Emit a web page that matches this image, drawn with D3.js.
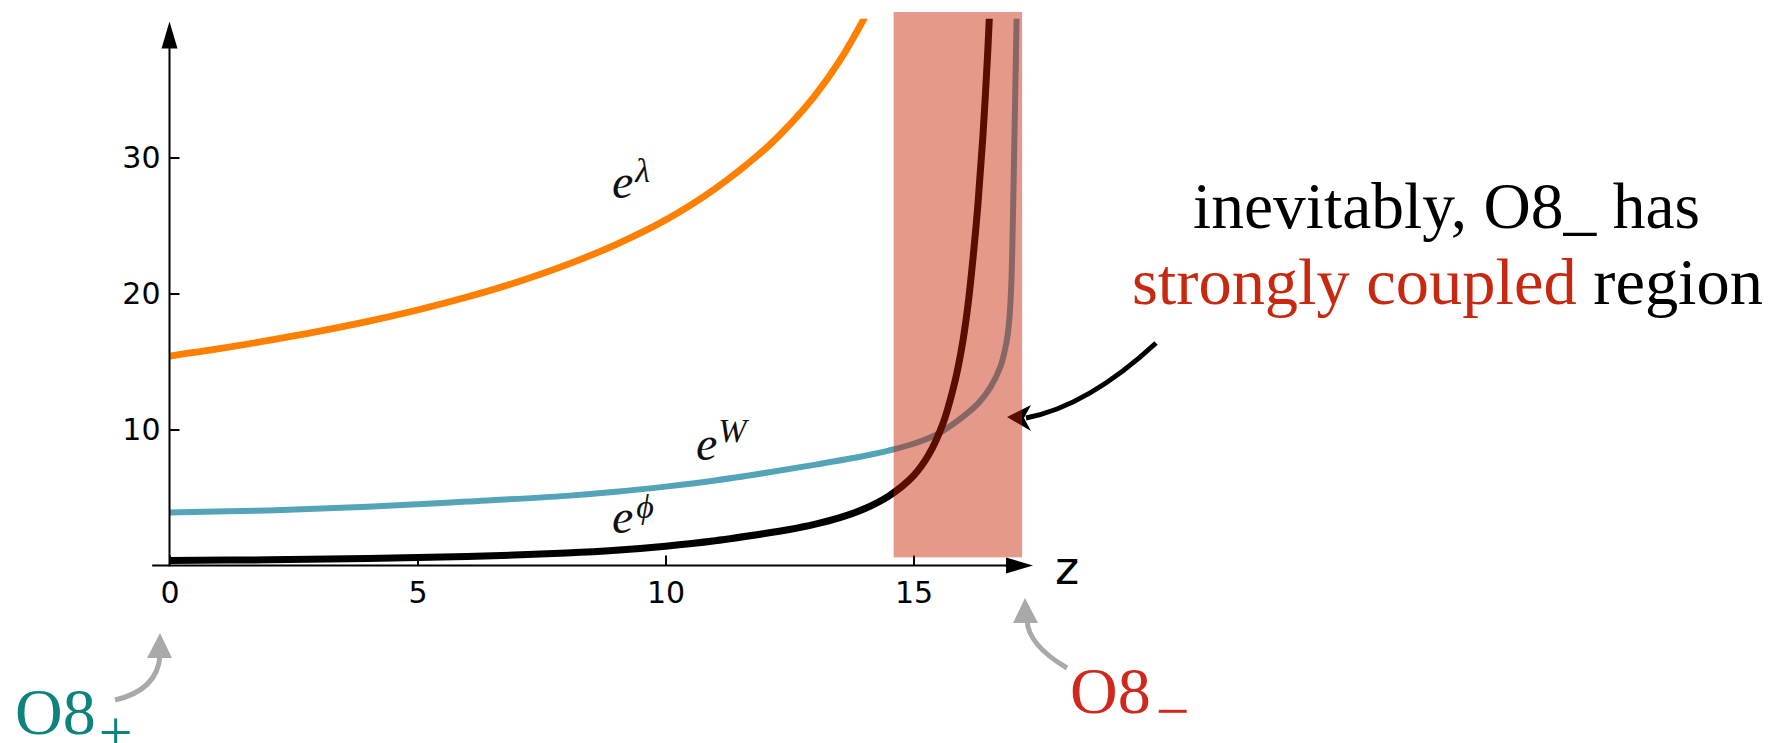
<!DOCTYPE html>
<html>
<head>
<meta charset="utf-8">
<script src="https://cdn.jsdelivr.net/npm/d3@7"></script>
<style>
  html, body { margin: 0; padding: 0; background: #fff; }
  svg { display: block; }
</style>
</head>
<body>
<svg id="chart" width="1780" height="743"></svg>
<script>
// e^lambda (orange)
const zLambda = [0, 1, 2, 3, 4, 5, 6, 7, 8, 9, 10, 11, 12, 12.5, 13, 13.5, 14, 14.3];
const eLambda = [15.4, 15.94, 16.55, 17.21, 17.95, 18.79, 19.74, 20.83, 22.1, 23.6, 25.4, 27.7, 30.6, 32.4, 34.5, 37.05, 40.2, 42.4];

// e^W (teal)
const zW = [0, 2, 4, 6, 8, 9, 10, 11, 12, 13, 14, 14.5, 15, 15.5, 16, 16.3, 16.55, 16.75, 16.84, 16.9, 16.94, 16.97, 16.99, 17.02, 17.05, 17.08, 17.1];
const eW = [3.9, 4.05, 4.32, 4.7, 5.12, 5.42, 5.8, 6.25, 6.8, 7.4, 8.05, 8.45, 8.95, 9.7, 10.95, 11.9, 13.1, 14.6, 15.8, 17.0, 18.5, 20.5, 23.0, 28.5, 34.5, 40.5, 44.5];

// e^phi (black)
const zPhi = [0, 2, 4, 6, 8, 9, 10, 11, 12, 12.5, 13, 13.5, 14, 14.5, 15, 15.3, 15.6, 15.8, 15.9, 16.0, 16.1, 16.2, 16.3, 16.4, 16.5, 16.55, 16.6];
const ePhi = [0.37, 0.42, 0.52, 0.66, 0.92, 1.12, 1.42, 1.82, 2.35, 2.65, 3.02, 3.5, 4.15, 5.1, 6.6, 8.1, 10.5, 13.0, 14.6, 16.6, 19.2, 22.6, 26.6, 31.6, 38.0, 42.0, 46.0];

// strongly coupled band near O8_
const regionZ = [14.6, 17.19];
const regionY = [0.6, 40.7];

// axis ticks
const zTicks = [0, 5, 10, 15];
const yTicks = [10, 20, 30];

const svg = d3.select("#chart");
svg.append("rect").attr("width", 1780).attr("height", 743).attr("fill", "#fff");

const x = d3.scaleLinear().domain([0, 17]).range([169.5, 169.5 + 17 * 49.6]);
const y = d3.scaleLinear().domain([0, 40]).range([565.5, 21.5]);

const yTop = 40.2;   // curves are cut off here
const zEnd = 17.41;  // tip of the z axis arrow
const zStart = -0.35;

svg.append("defs").append("clipPath").attr("id", "plotclip")
  .append("rect")
  .attr("x", 0).attr("y", y(yTop))
  .attr("width", 1780).attr("height", y(-1) - y(yTop));

const line = d3.line()
  .x(d => x(d[0]))
  .y(d => y(d[1]))
  .curve(d3.curveCatmullRom.alpha(0.5));

const curves = [
  { z: zLambda, v: eLambda, color: "#ff8000", width: 6.8 },
  { z: zW, v: eW, color: "#53a4b6", width: 6 },
  { z: zPhi, v: ePhi, color: "#000000", width: 7 }
];

const gCurves = svg.append("g").attr("clip-path", "url(#plotclip)");
curves.forEach(c => {
  gCurves.append("path")
    .datum(c.z.map((z, i) => [z, c.v[i]]))
    .attr("d", line)
    .attr("fill", "none")
    .attr("stroke", c.color)
    .attr("stroke-width", c.width)
    .attr("stroke-linejoin", "round");
});

// axes
const axisColor = "#000";
const yAxis = d3.axisLeft(y).tickValues(yTicks).tickSizeInner(-10).tickSizeOuter(0).tickPadding(9);
const gy = svg.append("g").attr("transform", `translate(${x(0)},0)`).call(yAxis);
gy.select(".domain").remove();
gy.selectAll(".tick line").attr("stroke", axisColor).attr("stroke-width", 2);
gy.selectAll(".tick text")
  .attr("font-family", "DejaVu Sans, sans-serif")
  .attr("font-size", 30)
  .attr("fill", "#000");

const xAxis = d3.axisBottom(x).tickValues(zTicks).tickSizeInner(-10).tickSizeOuter(0).tickPadding(16);
const gx = svg.append("g").attr("transform", `translate(0,${y(0)})`).call(xAxis);
gx.select(".domain").remove();
gx.selectAll(".tick line").attr("stroke", axisColor).attr("stroke-width", 2);
gx.selectAll(".tick text")
  .attr("font-family", "DejaVu Sans, sans-serif")
  .attr("font-size", 30)
  .attr("fill", "#000");

// axis lines with arrowheads
svg.append("line")
  .attr("x1", x(zStart)).attr("x2", x(zEnd) - 20)
  .attr("y1", y(0)).attr("y2", y(0))
  .attr("stroke", axisColor).attr("stroke-width", 2);
svg.append("path")
  .attr("d", `M${x(zEnd)},${y(0)} L${x(zEnd) - 27},${y(0) - 8} L${x(zEnd) - 27},${y(0) + 8} Z`)
  .attr("fill", axisColor);

svg.append("line")
  .attr("x1", x(0)).attr("x2", x(0))
  .attr("y1", y(0) + 1).attr("y2", y(40) + 20)
  .attr("stroke", axisColor).attr("stroke-width", 2);
svg.append("path")
  .attr("d", `M${x(0)},${y(40)} L${x(0) - 8},${y(40) + 27} L${x(0) + 8},${y(40) + 27} Z`)
  .attr("fill", axisColor);

svg.append("text")
  .attr("x", x(zEnd) + 22).attr("y", y(0) + 18)
  .attr("font-family", "DejaVu Sans, sans-serif")
  .attr("font-size", 46)
  .attr("fill", "#000")
  .text("z");

// curve labels
function expLabel(xPos, yPos, sup, supDx, supDy) {
  const t = svg.append("text")
    .attr("x", xPos).attr("y", yPos)
    .attr("font-family", "Liberation Serif, Times New Roman, serif")
    .attr("font-style", "italic")
    .attr("font-size", 48)
    .attr("fill", "#111");
  t.append("tspan").text("e");
  t.append("tspan").attr("dx", supDx).attr("dy", supDy).attr("font-size", 34).text(sup);
}
expLabel(612, 198, "λ", 2, -16);
expLabel(696, 460, "W", 1, -18);
expLabel(612, 533, "ϕ", 3, -15);

// arrow pointing at the band
svg.append("path")
  .attr("d", "M1156,343 Q1088,406 1026,418")
  .attr("fill", "none")
  .attr("stroke", "#000")
  .attr("stroke-width", 5);
svg.append("path")
  .attr("d", "M1007,417 L1031,405 L1024,418 L1031,431 Z")
  .attr("fill", "#000");

// translucent band drawn over the curves
svg.append("rect")
  .attr("x", x(regionZ[0])).attr("y", y(regionY[1]))
  .attr("width", x(regionZ[1]) - x(regionZ[0]))
  .attr("height", y(regionY[0]) - y(regionY[1]))
  .attr("fill", "rgb(198,31,0)")
  .attr("fill-opacity", 0.455);

// text on the right
const serif = "Liberation Serif, Times New Roman, serif";
svg.append("text")
  .attr("x", 1193).attr("y", 228)
  .attr("font-family", serif).attr("font-size", 66)
  .attr("textLength", 507).attr("lengthAdjust", "spacingAndGlyphs")
  .attr("fill", "#000")
  .text("inevitably, O8_ has");
const line2 = svg.append("text")
  .attr("x", 1132).attr("y", 304)
  .attr("font-family", serif).attr("font-size", 66)
  .attr("textLength", 631).attr("lengthAdjust", "spacingAndGlyphs");
line2.append("tspan").attr("fill", "#c8280f").text("strongly coupled");
line2.append("tspan").attr("fill", "#000").text(" region");

// O-plane labels and gray pointers
const o8p = svg.append("text")
  .attr("x", 15).attr("y", 734)
  .attr("font-family", serif).attr("font-size", 66)
  .attr("fill", "#0e837d");
o8p.append("tspan").text("O8");
o8p.append("tspan").attr("dx", 3).attr("dy", 18).attr("font-size", 60).text("+");

const o8m = svg.append("text")
  .attr("x", 1070).attr("y", 713)
  .attr("font-family", serif).attr("font-size", 66)
  .attr("fill", "#d0281c");
o8m.append("tspan").text("O8");
o8m.append("tspan").attr("dx", 5).attr("dy", 18).attr("font-size", 60).text("−");

const gray = "#a8aaa9";
svg.append("path")
  .attr("d", "M115,700 Q158,690 160,655")
  .attr("fill", "none").attr("stroke", gray).attr("stroke-width", 5);
svg.append("path")
  .attr("d", "M160,633 L147,658 L172,658 Z")
  .attr("fill", gray);
svg.append("path")
  .attr("d", "M1067,668 Q1028,645 1027,620")
  .attr("fill", "none").attr("stroke", gray).attr("stroke-width", 5);
svg.append("path")
  .attr("d", "M1025,598 L1013,623 L1038,623 Z")
  .attr("fill", gray);
</script>
</body>
</html>
